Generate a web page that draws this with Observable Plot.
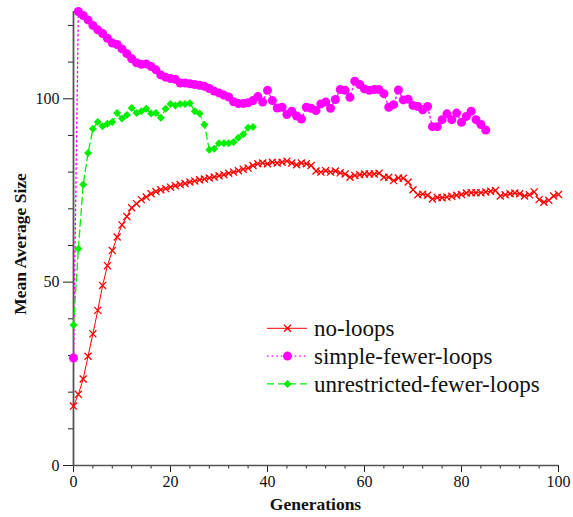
<!DOCTYPE html>
<html><head><meta charset="utf-8">
<script src="https://cdn.jsdelivr.net/npm/d3@7"></script>
<script src="https://cdn.jsdelivr.net/npm/@observablehq/plot@0.6"></script>
<style>
body{margin:0;background:#fff;}
#chart{position:relative;width:573px;height:517px;}
</style></head><body><div id="chart"></div>
<script>
// Series names
const seriesNames = ["no-loops", "simple-fewer-loops", "unrestricted-fewer-loops"];
// Values per generation (index = generation)
const noLoops = [16.2,19.4,23.6,29.8,35.9,42.3,49.1,54.5,58.6,62.3,65.6,67.9,70.3,71.4,72.5,73.2,74.1,74.7,75.2,75.5,
  75.9,76.3,76.6,76.9,77.3,77.6,77.9,78.1,78.4,78.7,79.0,79.3,79.7,80.0,80.4,80.8,81.1,81.8,82.3,82.5,
  82.3,82.7,82.5,82.7,83.0,82.5,82.0,82.5,82.3,81.8,80.3,80.0,80.4,80.0,80.3,79.8,79.5,78.6,79.1,79.3,
  79.5,79.5,79.5,79.7,78.6,78.6,77.7,78.4,78.3,77.3,75.2,73.8,74.0,73.7,72.7,73.1,73.0,73.2,73.4,73.7,
  73.9,74.3,74.4,74.4,74.4,74.6,74.8,75.0,73.5,73.8,74.1,74.3,74.1,73.5,73.8,74.6,72.5,71.8,72.3,73.5,73.9];
const simpleFewerLoops = [29.3,123.8,122.7,121.5,120.0,118.8,117.8,116.5,115.2,114.8,113.6,112.3,110.9,109.8,109.4,109.5,108.8,107.9,106.5,105.9,
  105.5,105.3,104.3,104.3,104.1,103.9,103.7,103.4,102.8,102.1,101.6,101.0,100.5,99.2,98.7,98.7,98.9,99.5,100.6,99.1,
  102.3,99.5,97.5,97.7,95.7,96.6,95.3,94.5,97.7,97.4,96.8,98.6,99.1,97.4,99.8,102.5,102.3,100.4,104.8,103.9,
  102.7,102.3,102.5,102.5,101.4,97.7,98.4,102.4,99.7,99.9,98.2,97.9,97.0,97.9,92.4,92.4,94.3,95.9,94.3,96.1,
  93.6,95.2,96.6,94.3,93.0,91.5];
const unrestrictedFewerLoops = [38.3,59.1,76.6,85.2,91.8,93.7,92.5,93.2,93.7,96.1,94.6,95.6,97.5,96.1,96.6,97.3,96.0,96.1,94.8,97.3,
  98.6,98.2,98.6,98.6,98.8,96.6,96.0,92.9,86.1,86.4,87.9,87.9,87.9,88.2,89.4,90.3,92.1,92.3];

// Tick values
const xMajorTicks = [0, 20, 40, 60, 80, 100];
const xMinorTicks = [4, 8, 12, 16, 24, 28, 32, 36, 44, 48, 52, 56, 64, 68, 72, 76, 84, 88, 92, 96];
const yMajorTicks = [0, 50, 100];
const yMinorTicks = [10, 20, 30, 40, 60, 70, 80, 90, 110, 120];

const RED = "#ff0000", MAGENTA = "#ff00ff", GREEN = "#00ee00";
const styles = [
  {name: seriesNames[0], values: noLoops, color: RED, dash: null, symbol: "times", r: 3.3, filled: false},
  {name: seriesNames[1], values: simpleFewerLoops, color: MAGENTA, dash: "1.6,3", symbol: "circle", r: 4.5, filled: true},
  {name: seriesNames[2], values: unrestrictedFewerLoops, color: GREEN, dash: "7,4", symbol: "diamond2", r: 3.6, filled: true}
];
const rowsOf = s => s.values.map((v, i) => ({series: s.name, gen: i, value: v}));
const allRows = styles.flatMap(rowsOf);

const FONT = "'Liberation Serif', 'Times New Roman', Times, serif";
const AX = "#222";

const marks = [
  Plot.axisX(xMinorTicks, {tickSize: 3.5, tickFormat: () => "", stroke: AX, label: null}),
  Plot.axisX(xMajorTicks, {tickSize: 7, tickPadding: 3, stroke: AX, label: null, fontSize: 16, fontFamily: FONT, fill: "#111"}),
  Plot.axisY(yMinorTicks, {tickSize: 5, tickFormat: () => "", stroke: AX, label: null}),
  Plot.axisY(yMajorTicks, {tickSize: 10, tickPadding: 4, stroke: AX, label: null, fontSize: 16, fontFamily: FONT, fill: "#111"}),
  Plot.ruleY([0], {stroke: "#555", strokeWidth: 1.6}),
  Plot.ruleX([0], {stroke: "#555", strokeWidth: 1.8})
];
for (const s of styles) {
  const rows = rowsOf(s);
  marks.push(Plot.line(rows, {x: "gen", y: "value", stroke: s.color, strokeWidth: s.dash ? 1.3 : 1, strokeDasharray: s.dash ?? undefined}));
  marks.push(Plot.dot(rows, s.filled
    ? {x: "gen", y: "value", symbol: s.symbol, r: s.r, fill: s.color, stroke: "none"}
    : {x: "gen", y: "value", symbol: s.symbol, r: s.r, stroke: s.color, strokeWidth: 1.3}));
}

const plot = Plot.plot({
  width: 573, height: 517,
  marginLeft: 73, marginRight: 15, marginTop: 11, marginBottom: 52,
  style: {fontFamily: FONT, fontSize: "16px", background: "white", color: "#000", overflow: "visible"},
  x: {domain: [0, 100], axis: null, label: null},
  y: {domain: [0, d3.max(allRows, d => d.value)], axis: null, label: null},
  marks
});
document.getElementById("chart").appendChild(plot);

// Axis titles and legend (inside the SVG)
const svg = d3.select(plot);
svg.append("text").attr("x", 315.5).attr("y", 510)
  .attr("text-anchor", "middle").attr("font-family", FONT).attr("font-weight", "bold")
  .attr("font-size", 17.5).attr("fill", "#111").text("Generations");
svg.append("text").attr("transform", "translate(20,244) rotate(-90)")
  .attr("text-anchor", "middle").attr("dy", "0.35em").attr("font-family", FONT).attr("font-weight", "bold")
  .attr("font-size", 17.5).attr("fill", "#111").text("Mean Average Size");

const symbolMap = {times: d3.symbolTimes, circle: d3.symbolCircle, diamond2: d3.symbolDiamond2};
const leg = svg.append("g");
styles.forEach((s, i) => {
  const y = 328.3 + i * 27.8;
  const g = leg.append("g").attr("transform", `translate(0,${y})`);
  g.append("line").attr("x1", 267).attr("x2", 307).attr("y1", 0).attr("y2", 0)
    .attr("stroke", s.color).attr("stroke-width", s.dash ? 1.3 : 1).attr("stroke-dasharray", s.dash);
  const path = d3.symbol(symbolMap[s.symbol], Math.PI * s.r * s.r)();
  const m = g.append("path").attr("d", path).attr("transform", "translate(287.5,0)");
  if (s.filled) m.attr("fill", s.color).attr("stroke", "none");
  else m.attr("fill", "none").attr("stroke", s.color).attr("stroke-width", 1.3);
  g.append("text").attr("x", 314).attr("y", 0).attr("dy", "0.35em").attr("text-anchor", "start")
    .attr("font-family", FONT).attr("font-size", 23).attr("fill", "#111").text(s.name);
});
</script></body></html>
